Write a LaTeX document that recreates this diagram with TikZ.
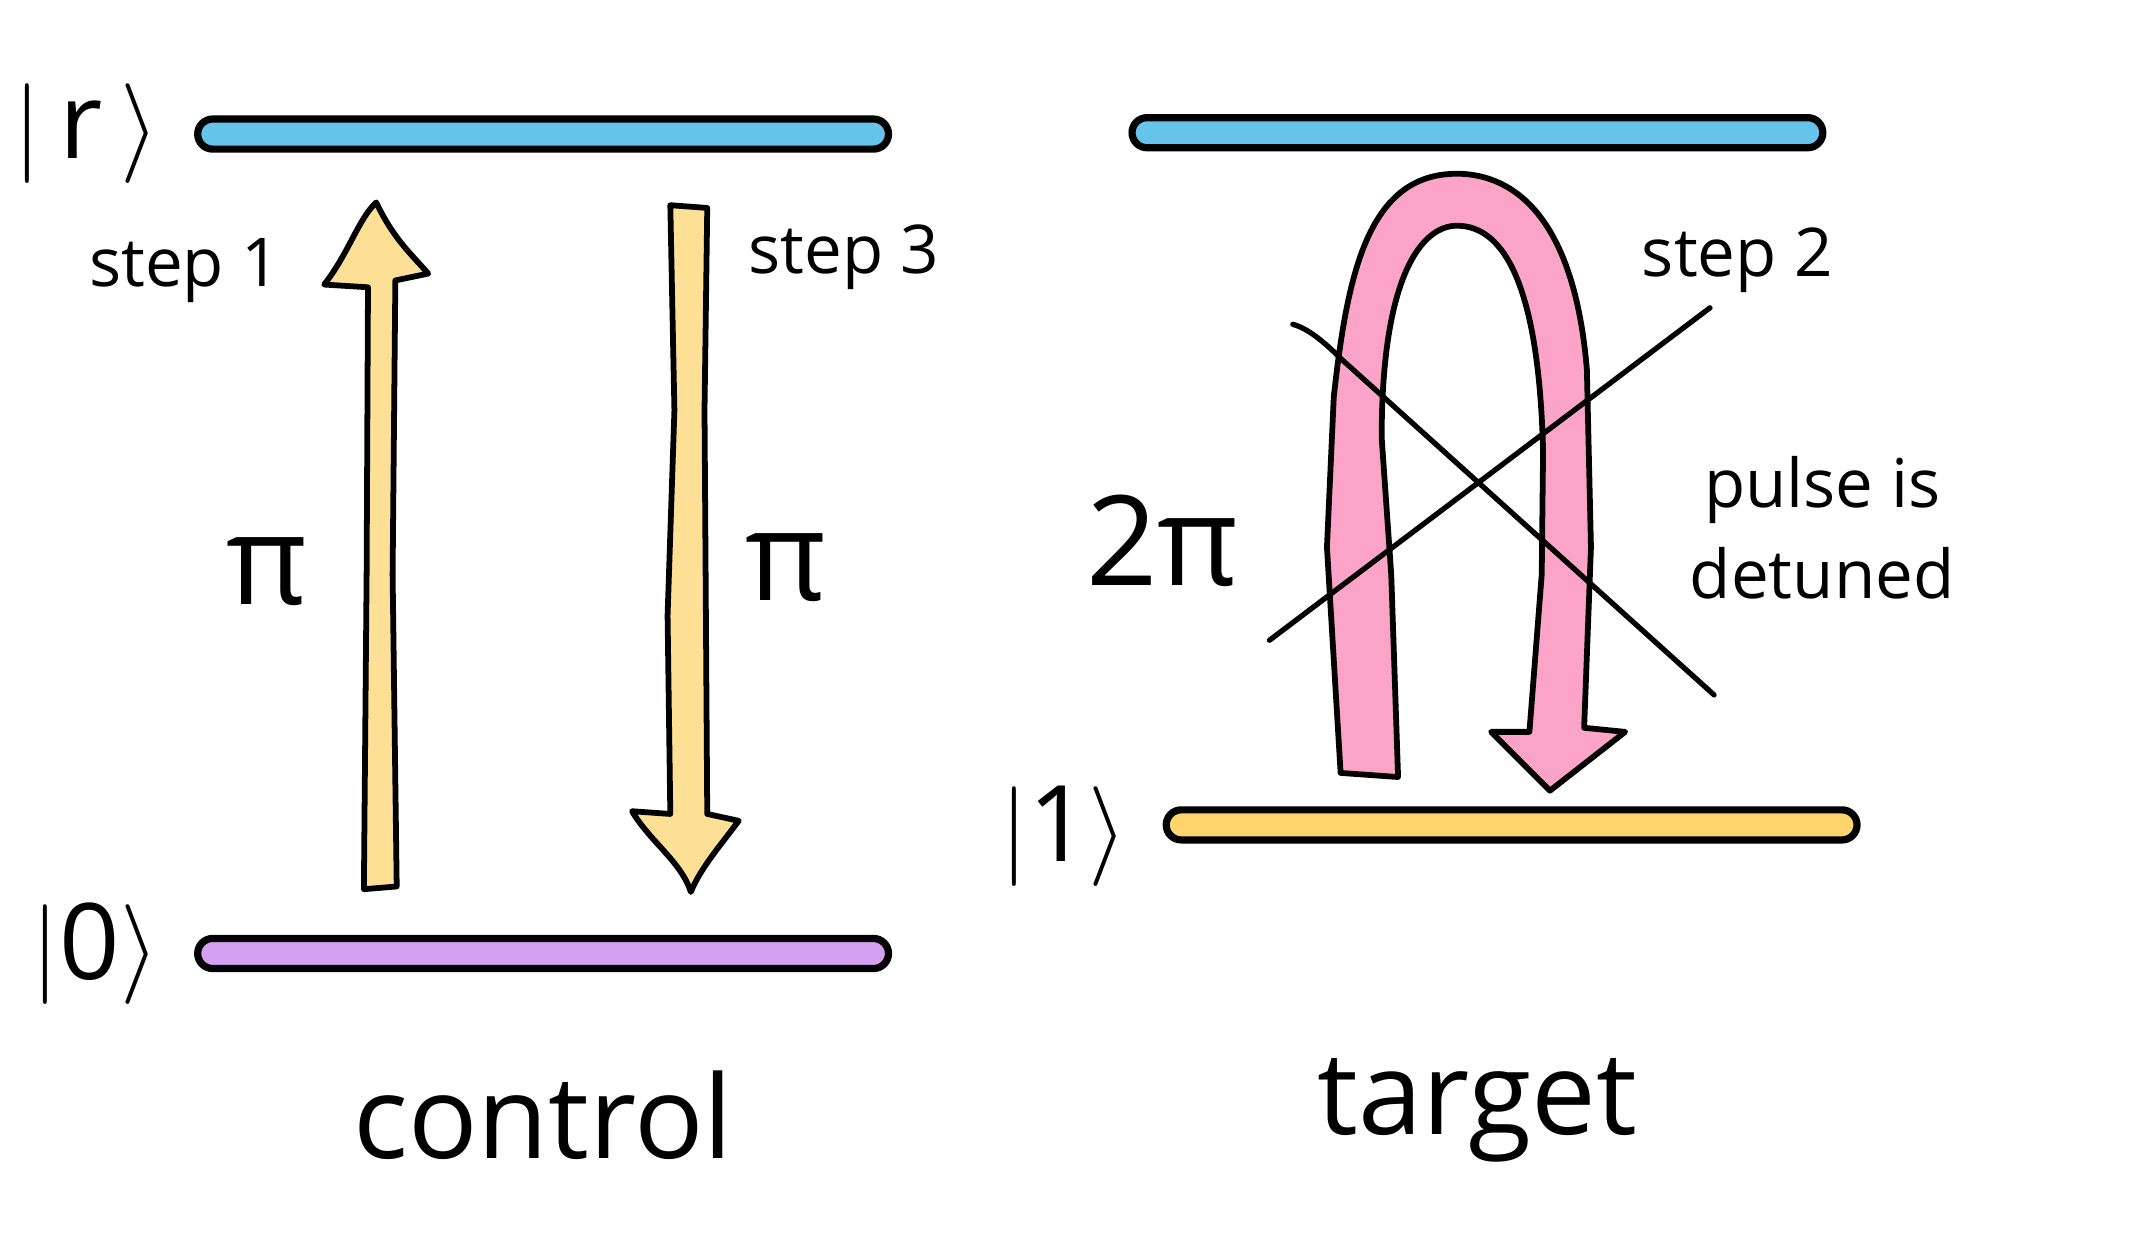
\documentclass[tikz,border=0pt]{standalone}
\usepackage{fontspec}
\setmainfont{Open Sans}
\usetikzlibrary{positioning}

\definecolor{rydberg}{HTML}{66C3EA}
\definecolor{ground}{HTML}{D6A0F2}
\definecolor{one}{HTML}{FDD56C}
\definecolor{pipulse}{HTML}{FEDF96}
\definecolor{twopi}{HTML}{FBA4C7}

\begin{document}
\begin{tikzpicture}[x=0.1mm, y=-0.1mm,
		level/.style={draw=black, line width=1.5pt, rounded corners=1.1mm, minimum width=50.5mm, minimum height=2.2mm, inner sep=0pt},
		ket/.style={font=\fontsize{22}{26}\selectfont, inner sep=0pt},
		steplabel/.style={font=\fontsize{14}{19}\selectfont, align=center},
		pilabel/.style={font=\fontsize{26}{30}\selectfont},
		title/.style={font=\fontsize{24}{28}\selectfont},
		block/.style={draw=black, line width=1.2pt, line join=round},
		cross/.style={line width=1.1pt, line cap=round}
		]
		\useasboundingbox (0,0) rectangle (1568,914);
		
		% energy levels
		\node [level, fill=rydberg] (rC) at (397,98) {};
		\node [level, fill=ground] (zeroC) at (397,697) {};
		\node [level, fill=rydberg] (rT) at (1080,97) {};
		\node [level, fill=one] (oneT) at (1105,603) {};
		
		\node [ket, left=2.5mm of rC] (ketr) {$|$\,r\,$\rangle$};
		\node [ket, left=2.5mm of zeroC] (ket0) {$|$0$\rangle$};
		\node [ket, left=2.5mm of oneT, yshift=-0.8mm] (ket1) {$|$1$\rangle$};
		
		% pi pulses on the control
		\draw [block, fill=pipulse] (266,650) -- (268,420) -- (269,210) -- (237,208)
			.. controls (255,185) and (262,160) .. (275,148)
			.. controls (288,175) and (300,185) .. (313,200) -- (289,205) -- (287,420) -- (290,648) -- cycle;
		\draw [block, fill=pipulse] (490,150) -- (517,152) -- (515,300) -- (517,595) -- (540,600)
			.. controls (525,620) and (512,635) .. (505,652)
			.. controls (498,630) and (475,615) .. (462,593) -- (490,595) -- (488,450) -- (493,300) -- cycle;
		
		% 2pi pulse on the target
		\draw [block, fill=twopi] (980,565) -- (1022,568) -- (1017,420) -- (1010,320)
			.. controls (1010,200) and (1040,165) .. (1065,165)
			.. controls (1100,165) and (1125,210) .. (1128,330) -- (1127,420) -- (1118,535) -- (1090,535)
			-- (1133,578) -- (1188,535) -- (1158,532) -- (1163,400) -- (1160,270)
			.. controls (1150,150) and (1100,127) .. (1065,127)
			.. controls (1000,127) and (985,200) .. (975,290) -- (970,400) -- cycle;
		\draw [cross] (945,237) .. controls (955,240) and (965,247) .. (980,262) -- (1253,508);
		\draw [cross] (928,468) -- (1250,225);
		
		% labels
		\node [steplabel] (step1) at (135,198) {step 1};
		\node [steplabel] (step3) at (617,188) {step 3};
		\node [steplabel] (step2) at (1270,190) {step 2};
		\node [pilabel] (pi1) at (195,418) {π};
		\node [pilabel] (pi3) at (575,415) {π};
		\node [pilabel] (pi2) at (850,395) {2π};
		\node [steplabel] (detuned) at (1332,386) {pulse is\\detuned};
		
		\node [title] (control) at (397,815) {control};
		\node [title] (target) at (1080,812) {target};
	\end{tikzpicture}
\end{document}
